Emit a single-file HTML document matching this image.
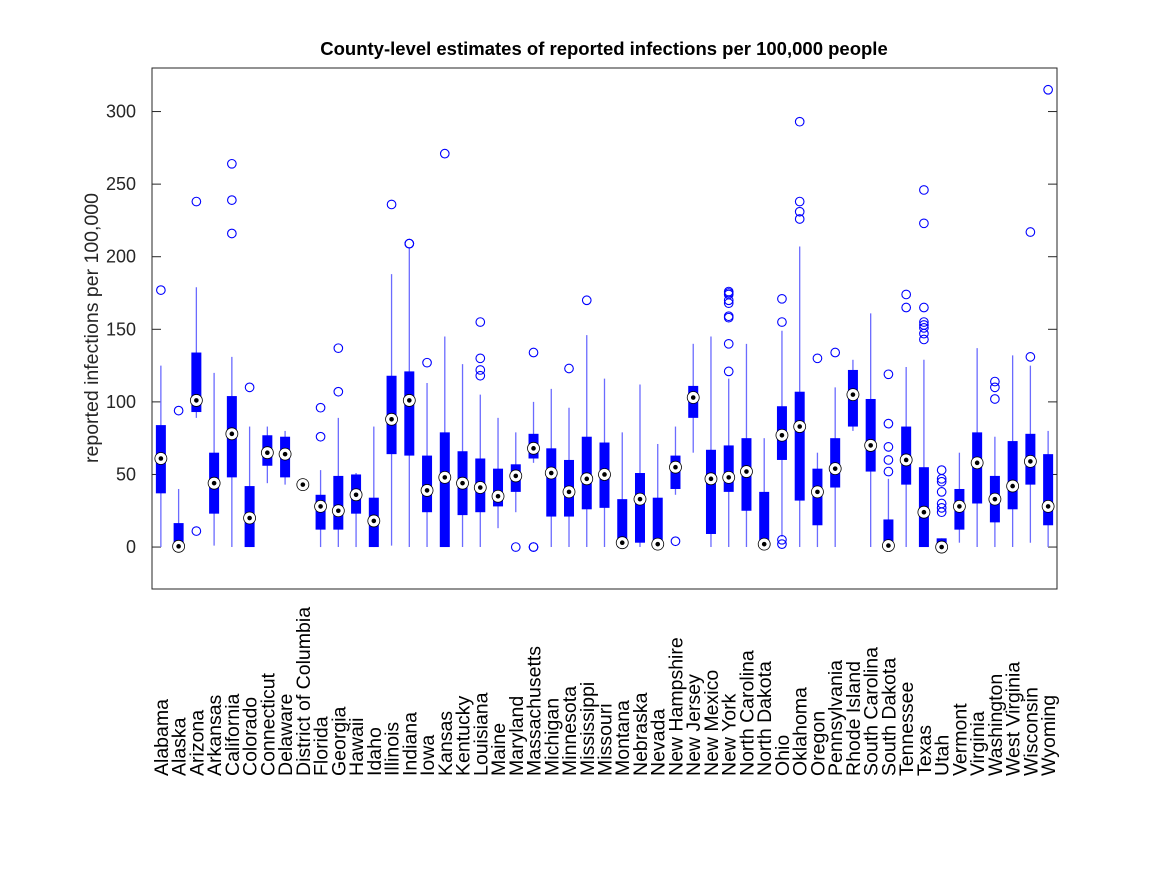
<!DOCTYPE html>
<html><head><meta charset="utf-8"><style>
html,body{margin:0;padding:0;background:#fff;}
svg text{font-family:"Liberation Sans",sans-serif;}
</style></head><body>
<svg id="chart" width="1167" height="875" xmlns="http://www.w3.org/2000/svg">
<rect width="1167" height="875" fill="#fff"/>
<text x="604" y="55" text-anchor="middle" font-size="18.5" font-weight="bold">County-level estimates of reported infections per 100,000 people</text>
<text transform="translate(98,328) rotate(-90)" text-anchor="middle" font-size="19.5" fill="#262626">reported infections per 100,000</text>
<g id="plot"></g>
<rect x="152" y="68" width="905" height="521" fill="none" stroke="#262626" stroke-width="1"/>
</svg>
<script>
const states=["Alabama","Alaska","Arizona","Arkansas","California","Colorado","Connecticut","Delaware","District of Columbia","Florida","Georgia","Hawaii","Idaho","Illinois","Indiana","Iowa","Kansas","Kentucky","Louisiana","Maine","Maryland","Massachusetts","Michigan","Minnesota","Mississippi","Missouri","Montana","Nebraska","Nevada","New Hampshire","New Jersey","New Mexico","New York","North Carolina","North Dakota","Ohio","Oklahoma","Oregon","Pennsylvania","Rhode Island","South Carolina","South Dakota","Tennessee","Texas","Utah","Vermont","Virginia","Washington","West Virginia","Wisconsin","Wyoming"];
const whiskerLow=[0,0,89,1,0,0,44,43,43,0,0,0,0,1,0,0,0,0,0,13,24,58,0,0,0,0,0,0,0,36,65,0,0,0,0,7,0,0,0,80,0,0,0,0,0,3,0,0,0,3,0];
const q1=[37,0,93,23,48,0,56,48,43,12,12,23,0,64,63,24,0,22,24,28,38,61,21,21,26,27,0,3,0,40,89,9,38,25,0,60,32,15,41,83,52,0,43,0,0,12,30,17,26,43,15];
const medians=[61,0.5,101,44,78,20,65,64,43,28,25,36,18,88,101,39,48,44,41,35,49,68,51,38,47,50,3,33,2,55,103,47,48,52,2,77,83,38,54,105,70,1,60,24,0,28,58,33,42,59,28];
const q3=[84,16.5,134,65,104,42,77,76,43,36,49,50,34,118,121,63,79,66,61,54,57,78,68,60,76,72,33,51,34,63,111,67,70,75,38,97,107,54,75,122,102,19,83,55,6,40,79,49,73,78,64];
const whiskerHigh=[125,40,179,120,131,83,83,80,43,53,89,51,83,188,206,113,145,126,105,89,79,100,109,96,146,116,79,112,71,83,140,145,116,140,75,149,207,65,110,129,161,47,124,129,6,65,137,76,132,125,80];
const outliers=[[177],[94],[238,11],[],[216,239,264],[110],[],[],[],[96,76],[137,107],[],[],[236],[209,209],[127],[271],[],[155,130,122,118],[],[0],[134,0,0],[],[123],[170],[],[],[],[],[4],[],[],[176,175,174,170,168,159,158,140,121],[],[],[155,171,5,2],[293,238,231,226],[130],[134],[],[],[119,85,69,60,52],[174,165],[246,223,165,155,153,151,147,143],[53,47,45,38,30,27,24],[],[],[114,110,102],[],[131,217],[315]];
const yTicks=[0,50,100,150,200,250,300];

const L=152,R=1057,T=68,B=589,yMin=-28.9,yMax=330;
const n=states.length;
const xs=i=>L+(i+0.5)*(R-L)/n;
const ys=v=>B-(v-yMin)/(yMax-yMin)*(B-T);
const NS="http://www.w3.org/2000/svg";
const plot=document.getElementById('plot');
const svg=document.getElementById('chart');
function mk(tag,attrs,parent){const e=document.createElementNS(NS,tag);for(const k in attrs)e.setAttribute(k,attrs[k]);(parent||plot).appendChild(e);return e;}

yTicks.forEach(t=>{
  const y=ys(t);
  const a=mk('line',{x1:L,x2:L+9,y1:y,y2:y,stroke:'#262626'});
  
  
  const b=mk('line',{x1:R-9,x2:R,y1:y,y2:y,stroke:'#262626'});
  
  
  const tx=mk('text',{x:L-16,y:y+6,'text-anchor':'end','font-size':'18',fill:'#262626'},svg);
  tx.textContent=t;
  
  
});

states.forEach((s,i)=>{
  const x=xs(i);
  const g=mk('g',{});
  
  
  mk('line',{x1:x,x2:x,y1:ys(whiskerLow[i]),y2:ys(whiskerHigh[i]),stroke:'#6b6bff','stroke-width':1.3},g);
  const top=ys(q3[i]),bot=ys(q1[i]);
  mk('rect',{x:x-5,y:top,width:10,height:Math.max(bot-top,0.5),fill:'#0000ff'},g);
  outliers[i].forEach(o=>{
    const c=mk('circle',{cx:x,cy:ys(o),r:4.3,fill:'none',stroke:'#0000ff','stroke-width':1.1},g);
    
    
  });
  mk('circle',{cx:x,cy:ys(medians[i]),r:6,fill:'#fff',stroke:'#000','stroke-width':0.8},g);
  mk('circle',{cx:x,cy:ys(medians[i]),r:2.3,fill:'#000'},g);
  const lab=mk('text',{transform:`translate(${x+7},776) rotate(-90)`,'font-size':'19.5',fill:'#000'},svg);
  lab.textContent=s;
  
  
});
</script>
</body></html>
